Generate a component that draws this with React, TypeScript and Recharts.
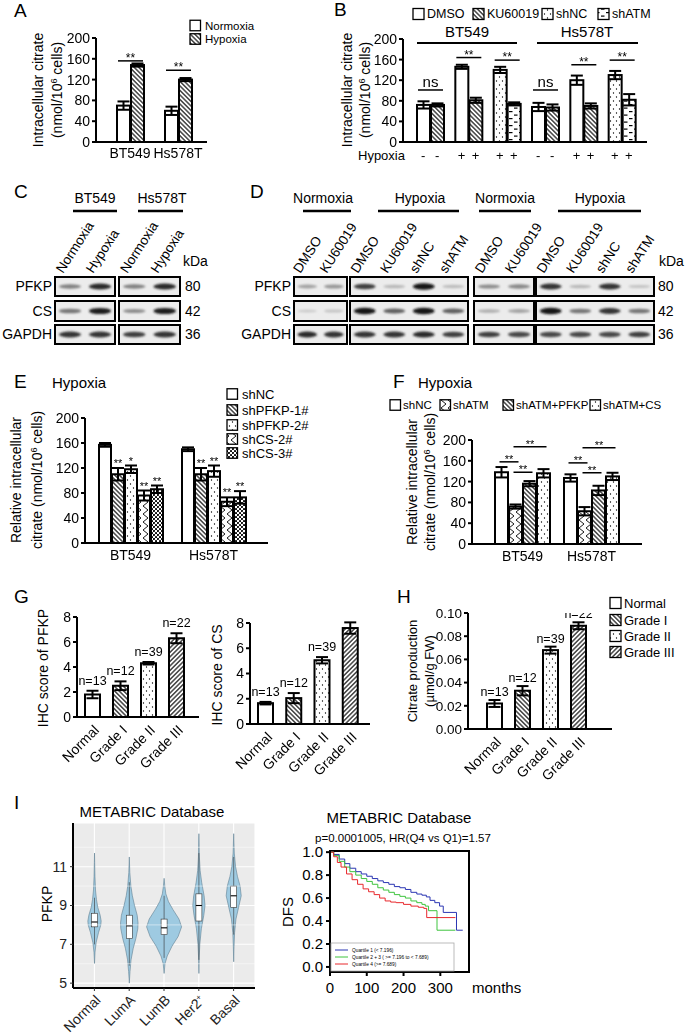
import React from 'react'
import {
  BarChart, Bar, XAxis, YAxis, ErrorBar, Cell, CartesianGrid,
  LineChart, Line, ReferenceLine, ReferenceArea,
} from 'recharts'

const FONT = '"Liberation Sans", Arial, Helvetica, sans-serif'

// ---------- A: intracellular citrate ----------
const cellLines = ['BT549', 'Hs578T']
const aNormoxia = [70, 60]
const aNormoxiaErr = [8, 8]
const aHypoxia = [148, 120]
const aHypoxiaErr = [3, 3]
const aSig = ['**', '**']
const aSigAt = [156, 138]

// ---------- B: ATM inhibition / knockdown ----------
const bCell = ['BT549', 'BT549', 'BT549', 'Hs578T', 'Hs578T', 'Hs578T']
const bHypoxia = ['-', '+', '+', '-', '+', '+']
const bLeftTreat = ['DMSO', 'DMSO', 'shNC', 'DMSO', 'DMSO', 'shNC']
const bRightTreat = ['KU60019', 'KU60019', 'shATM', 'KU60019', 'KU60019', 'shATM']
const bLeft = [72, 146, 140, 68, 120, 130]
const bLeftErr = [7, 4, 6, 8, 9, 8]
const bRight = [72, 81, 74, 67, 70, 82]
const bRightErr = [3, 5, 3, 6, 5, 11]
const bSig = ['ns', '**', '**', 'ns', '**', '**']
const bSigAt = [101, 164, 159, 101, 150, 159]
const bLegend = ['DMSO', 'KU60019', 'shNC', 'shATM']

// ---------- C / D: western blots (band intensity 0..1) ----------
const cHeads = ['BT549', 'Hs578T']
const cLanes = ['Normoxia', 'Hypoxia', 'Normoxia', 'Hypoxia']
const blotProteins = ['PFKP', 'CS', 'GAPDH']
const blotKDa = ['80', '42', '36']
const cPFKP = [0.45, 0.85, 0.45, 0.85]
const cCS = [0.5, 0.9, 0.4, 0.9]
const cGAPDH = [0.8, 0.8, 0.75, 0.8]
const dHeads = ['Normoxia', 'Hypoxia', 'Normoxia', 'Hypoxia']
const dLanes = ['DMSO', 'KU60019', 'DMSO', 'KU60019', 'shNC', 'shATM', 'DMSO', 'KU60019', 'DMSO', 'KU60019', 'shNC', 'shATM']
const dPFKP = [0.3, 0.35, 0.75, 0.2, 0.95, 0.18, 0.4, 0.42, 0.8, 0.2, 0.8, 0.15]
const dCS = [0.12, 0.15, 0.95, 0.6, 0.95, 0.6, 0.25, 0.3, 0.95, 0.5, 0.8, 0.5]
const dGAPDH = [0.85, 0.8, 0.8, 0.8, 0.85, 0.75, 0.75, 0.7, 0.7, 0.7, 0.7, 0.75]

// ---------- E: PFKP / CS knockdown ----------
const eGroups = ['shNC', 'shPFKP-1#', 'shPFKP-2#', 'shCS-2#', 'shCS-3#']
const eBT549 = [157, 110, 118, 76, 86]
const eBT549Err = [3, 10, 6, 8, 6]
const eBT549Sig = ['', '**', '*', '**', '**']
const eHs578T = [150, 110, 115, 66, 73]
const eHs578TErr = [3, 10, 9, 7, 10]
const eHs578TSig = ['', '**', '**', '**', '**']

// ---------- F: rescue ----------
const fGroups = ['shNC', 'shATM', 'shATM+PFKP', 'shATM+CS']
const fBT549 = [138, 72, 116, 136]
const fBT549Err = [10, 4, 5, 8]
const fHs578T = [127, 63, 103, 130]
const fHs578TErr = [7, 8, 9, 7]
const fBT549Links = [[0, 1, 158], [1, 2, 138], [1, 3, 187]]
const fHs578TLinks = [[0, 1, 156], [1, 2, 137], [1, 3, 185]]

// ---------- G / H: tissue ----------
const grades = ['Normal', 'Grade I', 'Grade II', 'Grade III']
const gPFKP = [1.8, 2.5, 4.3, 6.3]
const gPFKPErr = [0.3, 0.35, 0.1, 0.4]
const gCS = [1.65, 2.05, 5.05, 7.6]
const gCSErr = [0.1, 0.4, 0.25, 0.45]
const gN = ['n=13', 'n=12', 'n=39', 'n=22']
const hCitrate = [0.022, 0.033, 0.068, 0.089]
const hCitrateErr = [0.003, 0.004, 0.003, 0.003]
const hN = ['n=13', 'n=12', 'n=39', 'n=22']

// ---------- I: METABRIC ----------
const iSubtypes = ['Normal', 'LumA', 'LumB', 'Her2+', 'Basal']
const iMin = [6.0, 5.0, 5.5, 5.5, 6.1]
const iMax = [11.7, 11.5, 10.4, 12.7, 12.7]
const iQ1 = [7.9, 7.3, 7.5, 8.2, 8.9]
const iMed = [8.15, 7.95, 7.85, 9.0, 9.5]
const iQ3 = [8.6, 8.5, 8.3, 9.6, 10.0]
const iLo = [7.0, 5.9, 6.3, 6.2, 7.5]
const iHi = [9.4, 10.2, 9.5, 11.7, 11.5]
const iPeak = [0.38, 0.5, 1.0, 0.35, 0.43]
const iProfiles = [
  [[6.0, 0], [6.6, 0.08], [7.1, 0.25], [7.6, 0.6], [8.0, 0.95], [8.2, 1], [8.5, 0.85], [8.9, 0.5], [9.3, 0.3], [9.8, 0.15], [10.5, 0.07], [11.2, 0.03], [11.7, 0]],
  [[5.0, 0], [5.6, 0.08], [6.2, 0.2], [6.8, 0.45], [7.3, 0.75], [7.8, 0.97], [8.1, 1], [8.5, 0.9], [9.0, 0.6], [9.5, 0.35], [10.0, 0.18], [10.7, 0.06], [11.5, 0]],
  [[5.5, 0], [6.0, 0.05], [6.4, 0.18], [6.9, 0.45], [7.4, 0.8], [7.9, 1], [8.3, 0.85], [8.8, 0.5], [9.2, 0.25], [9.6, 0.1], [10.0, 0.04], [10.4, 0]],
  [[5.5, 0], [6.3, 0.05], [7.0, 0.15], [7.8, 0.4], [8.5, 0.8], [9.0, 1], [9.5, 0.85], [10.2, 0.45], [10.8, 0.2], [11.5, 0.08], [12.7, 0]],
  [[6.1, 0], [6.9, 0.05], [7.6, 0.12], [8.3, 0.3], [8.9, 0.65], [9.5, 1], [10.0, 0.85], [10.5, 0.5], [11.0, 0.25], [11.7, 0.08], [12.7, 0]],
]
const kmQ1 = [[0, 1], [10, 0.98], [25, 0.94], [40, 0.9], [54, 0.86], [70, 0.83], [85, 0.81], [100, 0.79], [115, 0.77], [130, 0.75], [145, 0.735], [160, 0.72], [175, 0.7], [190, 0.69], [205, 0.675], [220, 0.65], [236, 0.635], [250, 0.625], [262, 0.61], [272, 0.58], [285, 0.56], [298, 0.53], [308, 0.475], [344, 0.32], [361, 0.32]]
const kmQ23 = [[0, 1], [10, 0.97], [25, 0.92], [40, 0.87], [54, 0.83], [70, 0.8], [85, 0.77], [100, 0.745], [115, 0.72], [130, 0.69], [145, 0.67], [160, 0.65], [175, 0.63], [190, 0.615], [205, 0.6], [220, 0.575], [236, 0.56], [250, 0.545], [259, 0.53], [268, 0.49], [291, 0.32], [341, 0.32]]
const kmQ4 = [[0, 1], [10, 0.96], [20, 0.91], [30, 0.87], [45, 0.81], [60, 0.76], [75, 0.72], [90, 0.68], [105, 0.655], [120, 0.63], [135, 0.6], [150, 0.575], [165, 0.565], [180, 0.56], [200, 0.545], [220, 0.53], [240, 0.52], [255, 0.51], [263, 0.43], [341, 0.43]]
const kmLegend = ['Quartile 1 (< 7.196)', 'Quartile 2 + 3 ( >= 7.196 to < 7.689)', 'Quartile 4 (>= 7.689)']
const kmColors = ['#2b36b3', '#3fc43f', '#e8282c']

// ---------- styles ----------
const P: any = {
  white: '#ffffff',
  hatchB: 'url(#pHatchB)',
  hatchF: 'url(#pHatchF)',
  dots: 'url(#pDots)',
  dash: 'url(#pDash)',
  zig: 'url(#pZig)',
  dense: 'url(#pDense)',
}
const bStyle: any = { DMSO: 'white', KU60019: 'hatchB', shNC: 'dots', shATM: 'dash' }
const eStyle = ['white', 'hatchB', 'dots', 'zig', 'dense']
const fStyle = ['white', 'zig', 'hatchB', 'dots']
const gradeStyle = ['white', 'hatchB', 'dots', 'hatchF']
const axisLine = { stroke: '#000', strokeWidth: 2 }

function Patterns() {
  return (
    <svg width={0} height={0} style={{ position: 'absolute', left: 0, top: 0 }}>
      <defs>
        <pattern id="pHatchB" width={3.2} height={3.2} patternUnits="userSpaceOnUse" patternTransform="rotate(-45)">
          <rect width={3.2} height={3.2} fill="#fff" />
          <line x1={1.6} y1={0} x2={1.6} y2={3.2} stroke="#000" strokeWidth={1.1} />
        </pattern>
        <pattern id="pHatchF" width={3.2} height={3.2} patternUnits="userSpaceOnUse" patternTransform="rotate(45)">
          <rect width={3.2} height={3.2} fill="#fff" />
          <line x1={1.6} y1={0} x2={1.6} y2={3.2} stroke="#000" strokeWidth={1.1} />
        </pattern>
        <pattern id="pDots" width={6} height={8} patternUnits="userSpaceOnUse">
          <rect width={6} height={8} fill="#fff" />
          <circle cx={1.5} cy={2} r={0.65} fill="#000" />
          <circle cx={4.5} cy={6} r={0.65} fill="#000" />
        </pattern>
        <pattern id="pDash" width={10} height={7} patternUnits="userSpaceOnUse">
          <rect width={10} height={7} fill="#fff" />
          <rect x={1} y={1.5} width={3.5} height={1.2} fill="#000" />
          <rect x={6} y={5} width={3.5} height={1.2} fill="#000" />
        </pattern>
        <pattern id="pZig" width={7} height={8} patternUnits="userSpaceOnUse">
          <rect width={7} height={8} fill="#fff" />
          <path d="M0,0 L5,4 L0,8" fill="none" stroke="#000" strokeWidth={0.9} />
        </pattern>
        <pattern id="pDense" width={4} height={4} patternUnits="userSpaceOnUse">
          <rect width={4} height={4} fill="#fff" />
          <circle cx={1} cy={1} r={1.05} fill="#000" />
          <circle cx={3} cy={3} r={1.05} fill="#000" />
        </pattern>
        <filter id="blur" x="-50%" y="-50%" width="200%" height="200%">
          <feGaussianBlur stdDeviation={0.9} />
        </filter>
      </defs>
    </svg>
  )
}

// chart frame so that the plot area lands on the given page box
function frame(ax: number, top: number, bottom: number, right: number, o: any = {}) {
  const yw = o.yw ?? 40, mt = o.mt ?? 24, xh = o.xh ?? 30, mr = o.mr ?? 6
  return {
    pos: { position: 'absolute', left: ax - yw, top: top - mt } as React.CSSProperties,
    width: right - ax + yw + mr,
    height: bottom - top + mt + xh,
    margin: { top: mt, right: mr, bottom: 0, left: 0 },
    yw, xh, mt,
  }
}
// black-and-white panels: keep small text free of colour fringes
const mono = (pos: React.CSSProperties) => ({ ...pos, filter: 'grayscale(1)' })

const yTick = (fmt: any = String, fs = 14, fill = '#000') => (p: any) => (
  <text x={p.x} y={p.y} dy="0.35em" textAnchor="end" fontSize={fs} fill={fill}>{fmt(p.payload.value)}</text>
)
const catTick = (dy = 16, fs = 14) => (p: any) => (
  <text x={p.x} y={p.y + dy} textAnchor="middle" fontSize={fs} fill="#000">{p.payload.value}</text>
)
const rotTick = (dx: number, dy: number, fs: number, fill = '#000') => (p: any) => {
  const x = p.x + dx, y = p.y + dy
  const v = String(p.payload.value)
  const sup = v.endsWith('+')
  return (
    <text x={x} y={y} textAnchor="end" fontSize={fs} fill={fill} transform={`rotate(-45 ${x} ${y})`}>
      {sup ? v.slice(0, -1) : v}
      {sup ? <tspan dy={-5} fontSize={fs * 0.6}>+</tspan> : null}
    </text>
  )
}

// bar shapes
const rectOf = (p: any) => (
  <rect x={p.x} y={p.y} width={p.width} height={Math.max(p.height, 0)} fill={p.fill} stroke="#000" strokeWidth={2} />
)
const pxOf = (p: any, val: number) => (v: number) => p.y + p.height - (v / val) * p.height

const pairSigShape = (key: string, gap: number, fs: number) => (p: any) => {
  const d = p.payload
  const px = pxOf(p, d[key])
  const x1 = p.x - gap - p.width + 1
  const x2 = p.x + p.width - 1
  const ly = px(d.sigAt)
  const star = d.sig.indexOf('*') >= 0
  return (
    <g>
      {rectOf(p)}
      <line x1={x1} x2={x2} y1={ly} y2={ly} stroke="#000" strokeWidth={1.5} />
      <text x={(x1 + x2) / 2} y={star ? ly + 1 : ly - 3} textAnchor="middle" fontSize={star ? fs : 15} fill="#000">{d.sig}</text>
    </g>
  )
}
const starShape = (key: string, errKey: string, sigKey: string) => (p: any) => {
  const d = p.payload
  const px = pxOf(p, d[key])
  return (
    <g>
      {rectOf(p)}
      {d[sigKey] ? (
        <text x={p.x + p.width / 2} y={px(d[key] + d[errKey]) - 1} textAnchor="middle" fontSize={11} fill="#000">{d[sigKey]}</text>
      ) : null}
    </g>
  )
}
const linkShape = (key: string, gap: number, self: number) => (p: any) => {
  const d = p.payload
  const px = pxOf(p, d[key])
  const step = p.width + gap
  const cx = (i: number) => p.x + p.width / 2 + (i - self) * step
  return (
    <g>
      {rectOf(p)}
      {d.links.map(([i, j, at]: number[], k: number) => {
        const y = px(at)
        const x1 = cx(i) - 2, x2 = cx(j) + 3
        return (
          <g key={k}>
            <line x1={x1} x2={x2} y1={y} y2={y} stroke="#000" strokeWidth={1.5} />
            <text x={(x1 + x2) / 2} y={y + 1} textAnchor="middle" fontSize={11} fill="#000">**</text>
          </g>
        )
      })}
    </g>
  )
}
// n labels placed on the value axis of the chart (sy maps a value to chart y)
const nShape = (sy: (v: number) => number, off: number) => (p: any) => {
  const d = p.payload
  return (
    <g>
      {rectOf(p)}
      <text x={p.x + p.width / 2} y={sy(d.v + d.e) - off} textAnchor="middle" fontSize={12.5} fill="#000">{d.n}</text>
    </g>
  )
}
const violinShape = (p: any) => {
  const d = p.payload
  const px = (v: number) => p.y + ((d.max - v) / (d.max - d.min)) * p.height
  const cx = p.x + p.width / 2
  const hw = (p.width / 2) * d.peak
  const rightSide = d.profile.map(([v, w]: number[]) => `${cx + w * hw},${px(v)}`)
  const leftSide = d.profile.slice().reverse().map(([v, w]: number[]) => `${cx - w * hw},${px(v)}`)
  return (
    <g>
      <polygon points={rightSide.concat(leftSide).join(' ')} fill="#9ecae1" stroke="#5f7f92" strokeWidth={0.6} />
      <line x1={cx} x2={cx} y1={px(d.hi)} y2={px(d.lo)} stroke="#333" strokeWidth={0.6} />
      <rect x={cx - 3} y={px(d.q3)} width={6} height={px(d.q1) - px(d.q3)} fill="#fff" stroke="#333" strokeWidth={0.6} />
      <line x1={cx - 3} x2={cx + 3} y1={px(d.med)} y2={px(d.med)} stroke="#000" strokeWidth={1.1} />
    </g>
  )
}

const Y200 = [0, 40, 80, 120, 160, 200]

function PanelA() {
  const f = frame(96, 38, 142, 207)
  const rows = cellLines.map((c, i) => ({
    cell: c, norm: aNormoxia[i], normErr: aNormoxiaErr[i], hyp: aHypoxia[i], hypErr: aHypoxiaErr[i], sig: aSig[i], sigAt: aSigAt[i],
  }))
  return (
    <div style={mono(f.pos)}>
      <BarChart width={f.width} height={f.height} margin={f.margin} data={rows} barSize={13} barGap={1}>
        <XAxis dataKey="cell" height={f.xh} axisLine={axisLine} tickLine={false} tickSize={0} tickMargin={0} interval={0} tick={catTick(16)} padding={{ left: 10, right: 5 }} />
        <YAxis width={f.yw} domain={[0, 200]} ticks={Y200} interval={0} allowDataOverflow axisLine={axisLine} tickLine={axisLine} tickSize={4} tickMargin={2} tick={yTick()} />
        <Bar dataKey="norm" fill={P.white} isAnimationActive={false} shape={rectOf}>
          <ErrorBar dataKey="normErr" width={6} stroke="#000" strokeWidth={2} />
        </Bar>
        <Bar dataKey="hyp" fill={P.hatchB} isAnimationActive={false} shape={pairSigShape('hyp', 1, 12)}>
          <ErrorBar dataKey="hypErr" width={6} stroke="#000" strokeWidth={2} />
        </Bar>
      </BarChart>
    </div>
  )
}

function PanelB() {
  const f = frame(403, 39, 142, 647)
  const rows = bCell.map((c, i) => ({
    id: c + i, l: bLeft[i], le: bLeftErr[i], r: bRight[i], re: bRightErr[i], sig: bSig[i], sigAt: bSigAt[i],
  }))
  const hypTick = (p: any) => (
    <g>
      <text x={p.x - 7} y={p.y + 18} textAnchor="middle" fontSize={13} fill="#000">{bHypoxia[p.index]}</text>
      <text x={p.x + 7} y={p.y + 18} textAnchor="middle" fontSize={13} fill="#000">{bHypoxia[p.index]}</text>
    </g>
  )
  return (
    <div style={mono(f.pos)}>
      <BarChart width={f.width} height={f.height} margin={f.margin} data={rows} barSize={13} barGap={1}>
        <XAxis dataKey="id" height={f.xh} axisLine={axisLine} tickLine={false} tickSize={0} tickMargin={0} interval={0} tick={hypTick} padding={{ left: 8, right: 6 }} />
        <YAxis width={f.yw} domain={[0, 200]} ticks={Y200} interval={0} allowDataOverflow axisLine={axisLine} tickLine={axisLine} tickSize={4} tickMargin={2} tick={yTick()} />
        <Bar dataKey="l" isAnimationActive={false} shape={rectOf}>
          {bLeftTreat.map((t, i) => <Cell key={i} fill={P[bStyle[t]]} />)}
          <ErrorBar dataKey="le" width={6} stroke="#000" strokeWidth={2} />
        </Bar>
        <Bar dataKey="r" isAnimationActive={false} shape={pairSigShape('r', 1, 12)}>
          {bRightTreat.map((t, i) => <Cell key={i} fill={P[bStyle[t]]} />)}
          <ErrorBar dataKey="re" width={6} stroke="#000" strokeWidth={2} />
        </Bar>
      </BarChart>
    </div>
  )
}

function PanelE() {
  const f = frame(85, 418, 543, 268)
  const rows = [
    { cell: cellLines[0], v: eBT549, e: eBT549Err, s: eBT549Sig },
    { cell: cellLines[1], v: eHs578T, e: eHs578TErr, s: eHs578TSig },
  ].map((r) => {
    const o: any = { cell: r.cell }
    eGroups.forEach((_, k) => { o['g' + k] = r.v[k]; o['e' + k] = r.e[k]; o['s' + k] = r.s[k] })
    return o
  })
  return (
    <div style={mono(f.pos)}>
      <BarChart width={f.width} height={f.height} margin={f.margin} data={rows} barSize={12} barGap={1}>
        <XAxis dataKey="cell" height={f.xh} axisLine={axisLine} tickLine={false} tickSize={0} tickMargin={0} interval={0} tick={catTick(17)} padding={{ left: 4, right: 13 }} />
        <YAxis width={f.yw} domain={[0, 200]} ticks={Y200} interval={0} allowDataOverflow axisLine={axisLine} tickLine={axisLine} tickSize={4} tickMargin={2} tick={yTick()} />
        {eGroups.map((g, k) => (
          <Bar key={g} dataKey={'g' + k} fill={P[eStyle[k]]} isAnimationActive={false} shape={starShape('g' + k, 'e' + k, 's' + k)}>
            <ErrorBar dataKey={'e' + k} width={6} stroke="#000" strokeWidth={2} />
          </Bar>
        ))}
      </BarChart>
    </div>
  )
}

function PanelF() {
  const f = frame(472, 440, 544, 642)
  const rows = [
    { cell: cellLines[0], v: fBT549, e: fBT549Err, links: fBT549Links },
    { cell: cellLines[1], v: fHs578T, e: fHs578TErr, links: fHs578TLinks },
  ].map((r) => {
    const o: any = { cell: r.cell, links: r.links }
    fGroups.forEach((_, k) => { o['g' + k] = r.v[k]; o['e' + k] = r.e[k] })
    return o
  })
  return (
    <div style={mono(f.pos)}>
      <BarChart width={f.width} height={f.height} margin={f.margin} data={rows} barSize={13} barGap={1}>
        <XAxis dataKey="cell" height={f.xh} axisLine={axisLine} tickLine={false} tickSize={0} tickMargin={0} interval={0} tick={catTick(17)} padding={{ left: 16, right: 16 }} />
        <YAxis width={f.yw} domain={[0, 200]} ticks={Y200} interval={0} allowDataOverflow axisLine={axisLine} tickLine={axisLine} tickSize={4} tickMargin={2} tick={yTick()} />
        {fGroups.map((g, k) => (
          <Bar key={g} dataKey={'g' + k} fill={P[fStyle[k]]} isAnimationActive={false} shape={k === 1 ? linkShape('g1', 1, 1) : rectOf}>
            <ErrorBar dataKey={'e' + k} width={6} stroke="#000" strokeWidth={2} />
          </Bar>
        ))}
      </BarChart>
    </div>
  )
}

function GradeChart({ ax, top, bottom, right, pad, vals, errs, ns, domain, ticks, fmt, off, fs }: any) {
  const f = frame(ax, top, bottom, right, { xh: 60 })
  const rows = grades.map((g, i) => ({ g, v: vals[i], e: errs[i], n: ns[i] }))
  const sy = (v: number) => f.mt + ((domain[1] - v) / (domain[1] - domain[0])) * (bottom - top)
  return (
    <div style={mono(f.pos)}>
      <BarChart width={f.width} height={f.height} margin={f.margin} data={rows} barSize={15}>
        <XAxis dataKey="g" height={f.xh} axisLine={axisLine} tickLine={false} tickSize={0} tickMargin={0} interval={0} tick={rotTick(8, 14, 14)} padding={pad} />
        <YAxis width={f.yw} domain={domain} ticks={ticks} interval={0} allowDataOverflow axisLine={axisLine} tickLine={axisLine} tickSize={4} tickMargin={2} tick={yTick(fmt, fs)} />
        <Bar dataKey="v" isAnimationActive={false} shape={nShape(sy, off)}>
          {grades.map((g, i) => <Cell key={g} fill={P[gradeStyle[i]]} />)}
          <ErrorBar dataKey="e" width={6} stroke="#000" strokeWidth={2} />
        </Bar>
      </BarChart>
    </div>
  )
}

function PanelViolin() {
  const f = frame(73, 823, 988, 255, { xh: 47, mt: 4, mr: 2 })
  const rows = iSubtypes.map((s, i) => ({
    name: s, min: iMin[i], max: iMax[i], q1: iQ1[i], med: iMed[i], q3: iQ3[i], lo: iLo[i], hi: iHi[i], peak: iPeak[i], profile: iProfiles[i],
  }))
  const tl = { stroke: '#333', strokeWidth: 1 }
  return (
    <div style={f.pos}>
      <BarChart width={f.width} height={f.height} margin={f.margin} data={rows} barCategoryGap={0}>
        <CartesianGrid fill="#ebebeb" stroke="#fff" strokeWidth={1.1} />
        {[6, 8, 10, 12].map((v) => <ReferenceLine key={v} y={v} stroke="#fff" strokeWidth={0.5} />)}
        <XAxis dataKey="name" height={f.xh} axisLine={axisLine} tickLine={tl} tickSize={3} tickMargin={3} interval={0} tick={rotTick(7, 7, 14, '#222')} padding={{ left: 4, right: 4 }} />
        <YAxis width={f.yw} domain={[4.75, 13.25]} ticks={[5, 7, 9, 11]} interval={0} allowDataOverflow axisLine={axisLine} tickLine={tl} tickSize={3} tickMargin={3} tick={yTick(String, 14, '#222')} />
        <Bar dataKey={(d: any) => [d.min, d.max]} isAnimationActive={false} shape={violinShape} />
      </BarChart>
    </div>
  )
}

function PanelKM() {
  const f = frame(330, 851, 972, 469, { yw: 45, mt: 10, xh: 30, mr: 4 })
  const toRows = (a: number[][]) => a.map(([m, s]) => ({ m, s }))
  const series = [kmQ1, kmQ23, kmQ4]
  return (
    <div style={f.pos}>
      <LineChart width={f.width} height={f.height} margin={f.margin}>
        <XAxis type="number" dataKey="m" domain={[0, 378]} ticks={[0, 100, 200, 300]} interval={0} allowDataOverflow height={f.xh} axisLine={axisLine} tickLine={axisLine} tickSize={4} tickMargin={2} tick={catTick(15, 15)} />
        <YAxis type="number" dataKey="s" domain={[-0.044, 1.01]} ticks={[0, 0.2, 0.4, 0.6, 0.8, 1]} interval={0} allowDataOverflow width={f.yw} axisLine={axisLine} tickLine={axisLine} tickSize={4} tickMargin={3} tick={yTick((v: number) => v.toFixed(1), 15)} />
        <ReferenceArea x1={0} x2={378} y1={-0.044} y2={1.01} fill="none" stroke="#000" strokeWidth={2} ifOverflow="visible" />
        {series.map((s, k) => (
          <Line key={k} data={toRows(s)} dataKey="s" type="stepAfter" stroke={kmColors[k]} strokeWidth={1} dot={false} isAnimationActive={false} />
        ))}
      </LineChart>
    </div>
  )
}

function VLabel({ x, y, fs = 14, pre, sup, post }: any) {
  return (
    <text transform={`translate(${x} ${y}) rotate(-90)`} textAnchor="middle" dy="0.35em" fontSize={fs}>
      {pre}
      {sup ? <tspan dy={-fs * 0.38} fontSize={fs * 0.65}>{sup}</tspan> : null}
      {post ? <tspan dy={sup ? fs * 0.38 : 0}>{post}</tspan> : null}
    </text>
  )
}
const LBox = ({ x, y, fill, s = 11 }: any) => (
  <rect x={x} y={y - s / 2} width={s} height={s} fill={P[fill]} stroke="#000" strokeWidth={1.3} />
)

const blotRowsY = [[277, 296], [301, 321], [325, 344]]
function Blot({ boxes, rows, labels }: any) {
  const gray = (v: number) => { const g = Math.round(228 - 220 * v); return `rgb(${g},${g},${g})` }
  const lanes: number[] = []
  boxes.forEach(([x0, x1, n]: number[]) => { const w = (x1 - x0) / n; for (let k = 0; k < n; k++) lanes.push(x0 + w * (k + 0.5)) })
  return (
    <g>
      {labels.map((l: string, i: number) => (
        <text key={'l' + i} x={lanes[i] - 7} y={274} fontSize={13.5} transform={`rotate(-57 ${lanes[i] - 7} 274)`}>{l}</text>
      ))}
      {rows.map((vals: number[], r: number) => {
        const [y0, y1] = blotRowsY[r]
        let li = 0
        return boxes.map(([x0, x1, n]: number[], b: number) => {
          const w = (x1 - x0) / n
          const bands = []
          for (let k = 0; k < n; k++) {
            const v = vals[li++]
            bands.push(<ellipse key={k} cx={x0 + w * (k + 0.5)} cy={(y0 + y1) / 2} rx={w * 0.37} ry={1.3 + 2 * v} fill={gray(v)} filter="url(#blur)" />)
          }
          return (
            <g key={r + '-' + b}>
              <rect x={x0} y={y0} width={x1 - x0} height={y1 - y0} fill="#ececec" />
              {bands}
              <rect x={x0} y={y0} width={x1 - x0} height={y1 - y0} fill="none" stroke="#000" strokeWidth={2} />
            </g>
          )
        })
      })}
    </g>
  )
}

function Overlay() {
  const cBoxes = [[55, 115, 2], [119, 180, 2]]
  const dBoxes = [[294, 347, 2], [350, 468, 4], [474, 534, 2], [536, 654, 4]]
  const cHeadPos = [[95, 73, 117], [162, 138, 183]]
  const dHeadPos = [[323, 303, 351], [420, 378, 459], [505, 479, 531], [600, 558, 641]]
  const bLegX = [413, 473, 542, 598]
  const eLegY = [394, 410, 425, 439, 453]
  const fLegX = [390, 440, 503, 590]
  const hLegY = [603, 620, 636, 652]
  return (
    <svg width={685} height={1035} style={{ position: 'absolute', left: 0, top: 0, pointerEvents: 'none' }} fontFamily={FONT} fill="#000">
      {/* panel letters */}
      <text x={14} y={17} fontSize={19}>A</text>
      <text x={334} y={16} fontSize={19}>B</text>
      <text x={14} y={198} fontSize={19}>C</text>
      <text x={250} y={198} fontSize={19}>D</text>
      <text x={14} y={388} fontSize={19}>E</text>
      <text x={393} y={388} fontSize={19}>F</text>
      <text x={14} y={603} fontSize={19}>G</text>
      <text x={397} y={603} fontSize={19}>H</text>
      <text x={14} y={809} fontSize={19}>I</text>

      {/* A */}
      <VLabel x={38} y={90} pre="Intracellular citrate" />
      <VLabel x={57} y={90} pre="(nmol/10" sup="6" post=" cells)" />
      <LBox x={190} y={25.5} fill="white" s={10.5} />
      <text x={205} y={25.5} dy="0.35em" fontSize={11.5}>Normoxia</text>
      <LBox x={190} y={39} fill="hatchB" s={10.5} />
      <text x={205} y={39} dy="0.35em" fontSize={11.5}>Hypoxia</text>

      {/* B */}
      <VLabel x={347} y={90} pre="Intracellular citrate" />
      <VLabel x={365} y={90} pre="(nmol/10" sup="6" post=" cells)" />
      {bLegend.map((t, i) => (
        <g key={t}>
          <LBox x={bLegX[i]} y={14} fill={bStyle[t]} />
          <text x={bLegX[i] + 14} y={14} dy="0.35em" fontSize={12.5}>{t}</text>
        </g>
      ))}
      <text x={467} y={37} textAnchor="middle" fontSize={15}>{cellLines[0]}</text>
      <line x1={417} x2={517} y1={43} y2={43} stroke="#000" strokeWidth={2} />
      <text x={587} y={37} textAnchor="middle" fontSize={15}>{cellLines[1]}</text>
      <line x1={537} x2={638} y1={43} y2={43} stroke="#000" strokeWidth={2} />
      <text x={358} y={160} fontSize={13}>Hypoxia</text>

      {/* C */}
      {cHeads.map((h, i) => (
        <g key={h}>
          <text x={cHeadPos[i][0]} y={203} textAnchor="middle" fontSize={14}>{h}</text>
          <line x1={cHeadPos[i][1]} x2={cHeadPos[i][2]} y1={211} y2={211} stroke="#000" strokeWidth={2.5} />
        </g>
      ))}
      <Blot boxes={cBoxes} rows={[cPFKP, cCS, cGAPDH]} labels={cLanes} />
      {blotProteins.map((p, r) => (
        <g key={p}>
          <text x={52} y={(blotRowsY[r][0] + blotRowsY[r][1]) / 2} dy="0.35em" textAnchor="end" fontSize={14}>{p}</text>
          <text x={185} y={(blotRowsY[r][0] + blotRowsY[r][1]) / 2} dy="0.35em" fontSize={14}>{blotKDa[r]}</text>
          <text x={291} y={(blotRowsY[r][0] + blotRowsY[r][1]) / 2} dy="0.35em" textAnchor="end" fontSize={14}>{p}</text>
          <text x={658} y={(blotRowsY[r][0] + blotRowsY[r][1]) / 2} dy="0.35em" fontSize={14}>{blotKDa[r]}</text>
        </g>
      ))}
      <text x={183} y={266} fontSize={14}>kDa</text>

      {/* D */}
      {dHeads.map((h, i) => (
        <g key={i}>
          <text x={dHeadPos[i][0]} y={203} textAnchor="middle" fontSize={14}>{h}</text>
          <line x1={dHeadPos[i][1]} x2={dHeadPos[i][2]} y1={211} y2={211} stroke="#000" strokeWidth={2.5} />
        </g>
      ))}
      <Blot boxes={dBoxes} rows={[dPFKP, dCS, dGAPDH]} labels={dLanes} />
      <text x={659} y={266} fontSize={14}>kDa</text>

      {/* E */}
      <text x={52} y={388} fontSize={15}>Hypoxia</text>
      <VLabel x={16} y={480} pre="Relative intracellular" />
      <VLabel x={37} y={480} pre="citrate (nmol/10" sup="6" post=" cells)" />
      {eGroups.map((g, i) => (
        <g key={g}>
          <LBox x={227} y={eLegY[i]} fill={eStyle[i]} s={10.5} />
          <text x={242} y={eLegY[i]} dy="0.35em" fontSize={13}>{g}</text>
        </g>
      ))}

      {/* F */}
      <text x={418} y={388} fontSize={15}>Hypoxia</text>
      <VLabel x={412} y={482} pre="Relative intracellular" />
      <VLabel x={430} y={482} pre="citrate (nmol/10" sup="6" post=" cells)" />
      {fGroups.map((g, i) => (
        <g key={g}>
          <LBox x={fLegX[i]} y={405} fill={fStyle[i]} s={10.5} />
          <text x={fLegX[i] + 13} y={405} dy="0.35em" fontSize={11.5}>{g}</text>
        </g>
      ))}

      {/* G */}
      <VLabel x={43} y={668} pre="IHC score of PFKP" />
      <VLabel x={217} y={675} pre="IHC score of CS" />

      {/* H */}
      <VLabel x={412} y={671} fs={13} pre="Citrate production" />
      <VLabel x={429} y={671} fs={13} pre="(µmol/g FW)" />
      {grades.map((g, i) => (
        <g key={g}>
          <LBox x={610} y={hLegY[i]} fill={gradeStyle[i]} />
          <text x={624} y={hLegY[i]} dy="0.35em" fontSize={13}>{g}</text>
        </g>
      ))}

      {/* I */}
      <text x={152} y={817} textAnchor="middle" fontSize={15}>METABRIC Database</text>
      <VLabel x={47} y={904} pre="PFKP" />
      <text x={399} y={823} textAnchor="middle" fontSize={15}>METABRIC Database</text>
      <text x={403} y={842} textAnchor="middle" fontSize={11.5}>p=0.0001005, HR(Q4 vs Q1)=1.57</text>
      <VLabel x={288} y={912} fs={15} pre="DFS" />
      <text x={472} y={993} fontSize={15}>months</text>
      <rect x={331} y={943} width={123} height={28} fill="#fff" stroke="#aaa" strokeWidth={0.8} />
      {kmLegend.map((t, i) => (
        <g key={t}>
          <line x1={335} x2={348} y1={950 + i * 7} y2={950 + i * 7} stroke={kmColors[i]} strokeWidth={1} />
          <text x={352} y={950 + i * 7} dy="0.35em" fontSize={4.8}>{t}</text>
        </g>
      ))}
    </svg>
  )
}

export default function App() {
  return (
    <div style={{ position: 'absolute', left: 0, top: 0, width: 685, height: 1035, background: '#fff', fontFamily: FONT, overflow: 'hidden' }}>
      <Patterns />
      <PanelA />
      <PanelB />
      <PanelE />
      <PanelF />
      <GradeChart ax={77} top={617} bottom={717} right={199} pad={{ left: 1, right: 9 }} vals={gPFKP} errs={gPFKPErr} ns={gN}
        domain={[0, 8]} ticks={[0, 2, 4, 6, 8]} fmt={String} off={6} fs={14} />
      <GradeChart ax={250} top={623} bottom={724} right={370} pad={{ left: 1, right: 6 }} vals={gCS} errs={gCSErr} ns={gN}
        domain={[0, 8]} ticks={[0, 2, 4, 6, 8]} fmt={String} off={6} fs={14} />
      <GradeChart ax={468} top={613} bottom={729} right={612} pad={{ left: 12, right: 20 }} vals={hCitrate} errs={hCitrateErr} ns={hN}
        domain={[0, 0.1]} ticks={[0, 0.02, 0.04, 0.06, 0.08, 0.1]} fmt={(v: number) => v.toFixed(2)} off={4} fs={13.5} />
      <PanelViolin />
      <PanelKM />
      <Overlay />
    </div>
  )
}
